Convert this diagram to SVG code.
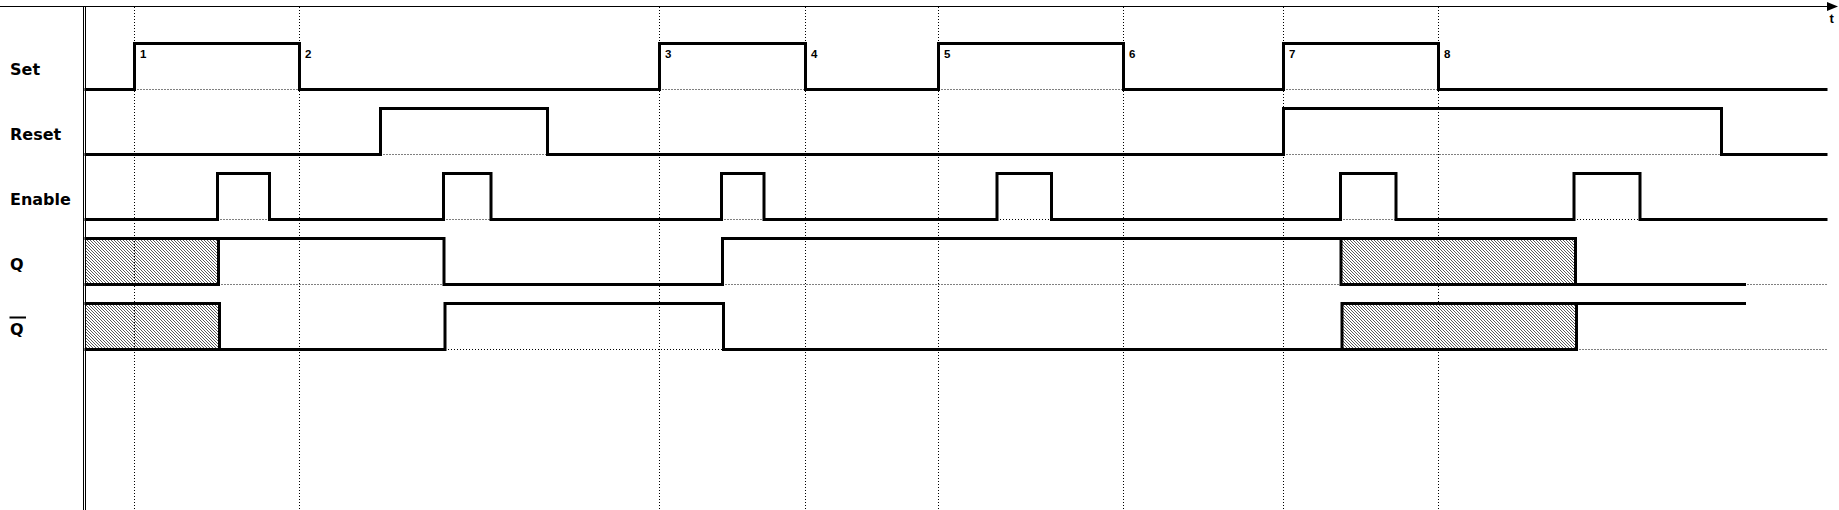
<svg xmlns="http://www.w3.org/2000/svg" width="1839" height="510" viewBox="0 0 1839 510">
<style>
.sig{fill:none;stroke:#000;stroke-width:3;stroke-linejoin:miter;stroke-linecap:square}
.dot{fill:none;stroke:#000;stroke-width:1;stroke-dasharray:1 2}
.ax{fill:none;stroke:#000;stroke-width:1}
.lbl{font-family:"DejaVu Sans",Verdana,sans-serif;font-weight:bold;font-size:16px;fill:#000}
.num{font-family:"Liberation Sans",Arial,sans-serif;font-weight:bold;font-size:11.5px;fill:#000}
.hatch{fill:url(#hp);stroke:none}
</style>
<defs>
<pattern id="hp" patternUnits="userSpaceOnUse" width="3" height="3">
<path d="M-1,-1 L4,4 M-1,2 L1,4 M2,-1 L4,1" stroke="#000" stroke-width="0.65" fill="none"/>
</pattern>
</defs>
<rect width="1839" height="510" fill="#fff"/>
<g id="grid">
<path class="dot" d="M134.5,7V510 M299.5,7V510 M659.5,7V510 M805.5,7V510 M938.5,7V510 M1123.5,7V510 M1283.5,7V510 M1438.5,7V510"/>
</g>
<g id="axes">
<path class="ax" d="M0,6.5H1828"/>
<polygon points="1827,2 1838,6.5 1827,11" fill="#000"/>
<text x="1829.5" y="23" style="font-family:'Liberation Sans',Arial,sans-serif;font-weight:bold;font-size:13px">t</text>
<path class="ax" d="M83.5,7V510 M85.5,7V510"/>
</g>
<g id="set">
<text class="lbl" x="10" y="75">Set</text>
<path class="dot" d="M134.5,89.5H299.5 M659.5,89.5H805.5 M938.5,89.5H1123.5 M1283.5,89.5H1438.5"/>
<path class="sig" d="M86,89.5H134.5V43.5H299.5V89.5H659.5V43.5H805.5V89.5H938.5V43.5H1123.5V89.5H1283.5V43.5H1438.5V89.5H1826"/>
<text class="num" x="140" y="58">1</text>
<text class="num" x="305" y="58">2</text>
<text class="num" x="665" y="58">3</text>
<text class="num" x="811" y="58">4</text>
<text class="num" x="944" y="58">5</text>
<text class="num" x="1129" y="58">6</text>
<text class="num" x="1289" y="58">7</text>
<text class="num" x="1444" y="58">8</text>
</g>
<g id="reset">
<text class="lbl" x="10" y="140">Reset</text>
<path class="dot" d="M380.5,154.5H547.5 M1283.5,154.5H1721.5"/>
<path class="sig" d="M86,154.5H380.5V108.5H547.5V154.5H1283.5V108.5H1721.5V154.5H1826"/>
</g>
<g id="enable">
<text class="lbl" x="10" y="205">Enable</text>
<path class="dot" d="M217.5,219.5H269.5 M443.5,219.5H491 M721.5,219.5H764 M997,219.5H1051.5 M1340.5,219.5H1396 M1574,219.5H1640"/>
<path class="sig" d="M86,219.5H217.5V173.5H269.5V219.5H443.5V173.5H491V219.5H721.5V173.5H764V219.5H997V173.5H1051.5V219.5H1340.5V173.5H1396V219.5H1574V173.5H1640V219.5H1826"/>
</g>
<g id="q">
<text class="lbl" x="10" y="270">Q</text>
<rect class="hatch" x="86" y="238.5" width="132.5" height="46"/>
<rect class="hatch" x="1341" y="238.5" width="234.5" height="46"/>
<path class="dot" d="M218.5,284.5H444 M722.5,284.5H1341 M1744.5,284.5H1827"/>
<path class="sig" d="M86,238.5H444V284.5H722.5V238.5H1575.5V284.5 M86,284.5H218.5V238.5 M1341,238.5V284.5H1744.5"/>
</g>
<g id="qbar">
<text class="lbl" x="10" y="335">Q</text>
<path d="M9.5,317.5H26" stroke="#000" stroke-width="2"/>
<rect class="hatch" x="86" y="303.5" width="133.5" height="46"/>
<rect class="hatch" x="1342" y="303.5" width="234.5" height="46"/>
<path class="dot" d="M445,349.5H723.5 M1576.5,349.5H1827"/>
<path class="sig" d="M86,303.5H219.5V349.5 M86,349.5H445V303.5H723.5V349.5H1576.5V303.5 M1342,349.5V303.5H1744.5"/>
</g>
</svg>
